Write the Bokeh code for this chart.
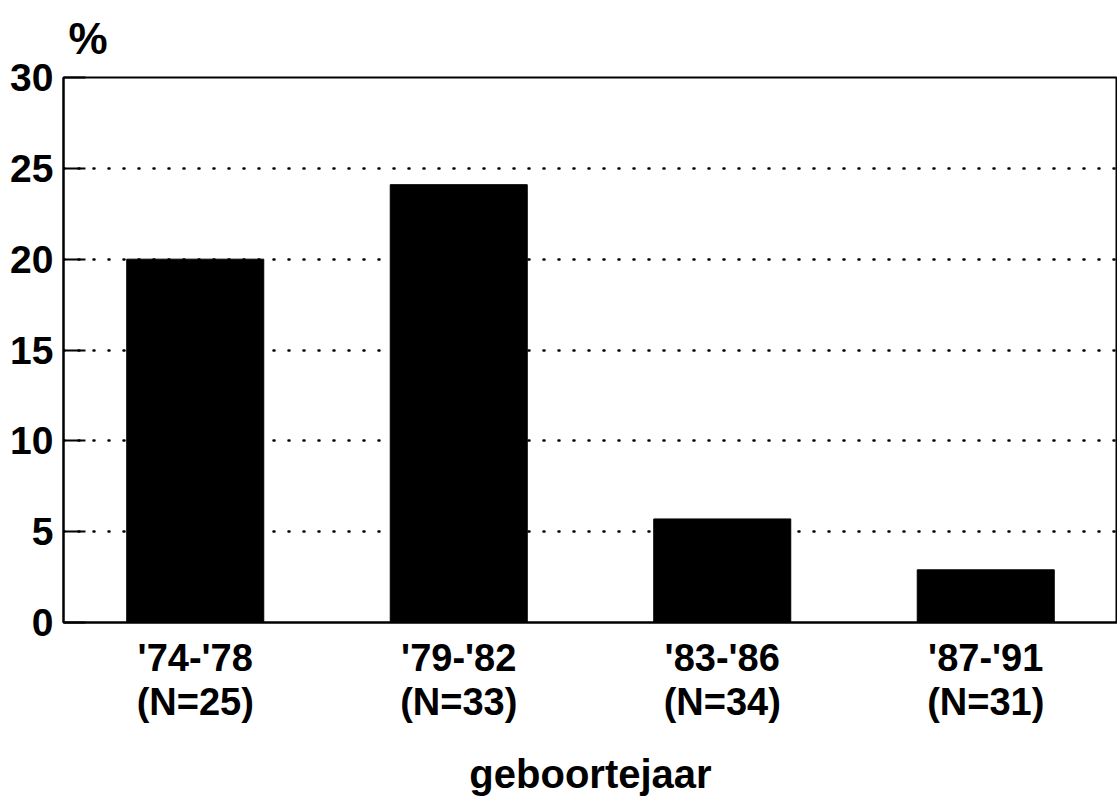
from bokeh.plotting import figure
from bokeh.models import Range1d, FixedTicker
from bokeh.embed import file_html
from bokeh.resources import INLINE

categories = ["'74-'78\n(N=25)", "'79-'82\n(N=33)", "'83-'86\n(N=34)", "'87-'91\n(N=31)"]
values = [20.0, 24.1, 5.7, 2.9]
y_ticks = [0, 5, 10, 15, 20, 25, 30]

FONT = "Liberation Sans"

p = figure(x_range=categories, y_range=Range1d(0, 30), width=1117, height=798,
           output_backend="svg", toolbar_location=None,
           min_border_left=63, min_border_right=0, min_border_top=77, min_border_bottom=176)

p.vbar(x=categories, top=values, width=0.52, fill_color="black", line_color="black")

p.title.text = "%"
p.title.align = "left"
p.title.offset = 5
p.title.standoff = 26
p.title.vertical_align = "top"
p.title.text_line_height = 1.0
p.title.text_font = FONT
p.title.text_font_style = "bold"
p.title.text_font_size = "44px"
p.title.text_color = "black"

p.outline_line_color = "black"
p.outline_line_width = 2

p.xgrid.grid_line_color = None
p.ygrid.grid_line_color = "black"
p.ygrid.grid_line_width = 2.5
p.ygrid.grid_line_dash = "1 14"
p.ygrid.grid_line_cap = "round"
p.ygrid.level = "underlay"

p.yaxis.ticker = FixedTicker(ticks=y_ticks)
p.yaxis.axis_line_width = 2
p.yaxis.major_tick_in = 22
p.yaxis.major_tick_out = 0
p.yaxis.major_tick_line_width = 2
p.yaxis.minor_tick_line_color = None
p.yaxis.major_label_text_font = FONT
p.yaxis.major_label_text_font_style = "bold"
p.yaxis.major_label_text_font_size = "39px"
p.yaxis.major_label_text_color = "black"
p.yaxis.major_label_standoff = 10

p.xaxis.axis_line_width = 2
p.xaxis.major_tick_line_color = None
p.xaxis.minor_tick_line_color = None
p.xaxis.major_label_text_font = FONT
p.xaxis.major_label_text_font_style = "bold"
p.xaxis.major_label_text_font_size = "38px"
p.xaxis.major_label_text_line_height = 1.05
p.xaxis.major_label_text_color = "black"
p.xaxis.major_label_standoff = 8
p.xaxis.axis_label = "geboortejaar"
p.xaxis.axis_label_text_font = FONT
p.xaxis.axis_label_text_font_style = "bold"
p.xaxis.axis_label_text_font_size = "40px"
p.xaxis.axis_label_text_color = "black"
p.xaxis.axis_label_standoff = 26

open("out.html", "w").write(file_html(p, INLINE))
